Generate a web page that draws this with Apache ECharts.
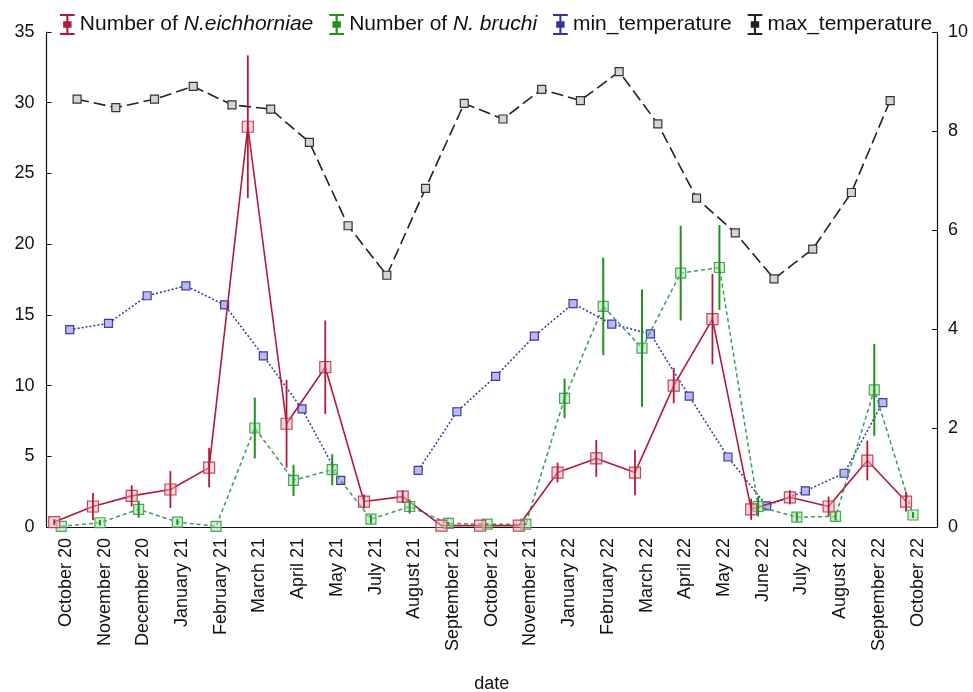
<!DOCTYPE html>
<html>
<head>
<meta charset="utf-8">
<script src="https://cdn.jsdelivr.net/npm/echarts@6/dist/echarts.min.js"></script>
<style>
  html, body { margin: 0; padding: 0; background: #fff; }
  #chart { width: 973px; height: 692px; }
</style>
</head>
<body>
<div id="chart"></div>
<script>
// Monthly sampling dates
const categories = ['October 20', 'November 20', 'December 20', 'January 21', 'February 21', 'March 21',
  'April 21', 'May 21', 'July 21', 'August 21', 'September 21', 'October 21', 'November 21',
  'January 22', 'February 22', 'March 22', 'April 22', 'May 22', 'June 22', 'July 22',
  'August 22', 'September 22', 'October 22'];

// Mean counts and their error ranges
const eichhorniae = [0.35, 1.45, 2.2, 2.65, 4.2, 28.3, 7.3, 11.3, 1.8, 2.15, 0.1, 0.1, 0.1,
  3.85, 4.85, 3.85, 10.0, 14.7, 1.25, 2.1, 1.45, 4.7, 1.8];
const eichhorniaeErr = [0.2, 0.95, 0.75, 1.3, 1.4, 5.05, 3.1, 3.3, 0.5, 0.45, 0, 0, 0,
  0.7, 1.3, 1.6, 1.25, 3.2, 0.75, 0.5, 0.7, 1.4, 0.7];
const bruchi = [0.05, 0.3, 1.25, 0.35, 0.05, 7.0, 3.3, 4.05, 0.55, 1.45, 0.25, 0.2, 0.2,
  9.1, 15.6, 12.65, 17.95, 18.35, 1.45, 0.7, 0.75, 9.7, 0.85];
const bruchiErr = [0, 0.2, 0.6, 0.2, 0, 2.15, 1.1, 1.1, 0.3, 0.5, 0.1, 0.05, 0.05,
  1.4, 3.45, 4.15, 3.35, 3.0, 0.7, 0.3, 0.3, 3.25, 0.2];

// Temperatures
const minTemp = [13.95, 14.4, 16.35, 17.05, 15.7, 12.1, 8.35, 3.3, null, 4.0, 8.15, 10.65, 13.5,
  15.8, 14.35, 13.65, 9.25, 4.95, 1.5, 2.55, 3.8, 8.8, null];
const maxTemp = [30.25, 29.65, 30.25, 31.15, 29.85, 29.55, 27.2, 21.3, 17.8, 23.95, 29.95, 28.85, 30.95,
  30.15, 32.2, 28.5, 23.25, 20.8, 17.55, 19.65, 23.65, 30.15, null];

// Axis scales
const leftMin = 0, leftMax = 35, leftStep = 5;
const rightMin = 0, rightMax = 10, rightStep = 2;

const FONT = '"Liberation Sans", Arial, sans-serif';
const RED = '#b01a3c', GREEN = '#1f921f', GREEN_LINE = '#3c9a5c', BLUE = '#34349e', BLACK = '#222222';

// series are drawn side by side within each month
const shift = { eich: -0.3, bruchi: -0.12, tmin: 0.1, tmax: 0.29 };

function points(vals, off) {
  return vals.map((v, i) => [i + off, v == null ? '-' : v]);
}
function ranges(vals, errs, off) {
  const out = [];
  vals.forEach((v, i) => { if (errs[i] > 0) out.push([i + off, v - errs[i], v + errs[i]]); });
  return out;
}
function errorSeries(name, data, color, width) {
  return {
    name, type: 'custom', xAxisIndex: 1, yAxisIndex: 0, z: 4,
    data, encode: { x: 0, y: [1, 2] },
    renderItem: (params, api) => {
      const x = api.value(0);
      const a = api.coord([x, api.value(1)]);
      const b = api.coord([x, api.value(2)]);
      return { type: 'line', shape: { x1: a[0], y1: a[1], x2: b[0], y2: b[1] },
        style: { stroke: color, lineWidth: width } };
    }
  };
}

const ICON = 'path://M0,0h14v2h-14z M6,0h2v20h-2z M0,18h14v2h-14z M3,7h8v6h-8z';

const chart = echarts.init(document.getElementById('chart'), null, { renderer: 'canvas' });
chart.setOption({
  animation: false,
  backgroundColor: '#ffffff',
  textStyle: { fontFamily: FONT },
  grid: { left: 46.5, right: 36, top: 32, bottom: 165, containLabel: false, outerBoundsMode: 'none' },
  legend: {
    left: 55, top: 9, itemWidth: 15, itemHeight: 21, itemGap: 16,
    textStyle: { fontFamily: FONT, fontSize: 21, color: '#111', rich: { i: { fontStyle: 'italic', fontFamily: FONT, fontSize: 21, color: '#111' } } },
    formatter: name => name.replace(/(N\.\s?\w+)/, '{i|$1}'),
    data: [
      { name: 'Number of N.eichhorniae', icon: ICON, itemStyle: { color: RED, borderWidth: 0 } },
      { name: 'Number of N. bruchi', icon: ICON, itemStyle: { color: GREEN, borderWidth: 0 } },
      { name: 'min_temperature', icon: ICON, itemStyle: { color: BLUE, borderWidth: 0 } },
      { name: 'max_temperature', icon: ICON, itemStyle: { color: BLACK, borderWidth: 0 } }
    ]
  },
  xAxis: [
    {
      type: 'category', data: categories, boundaryGap: true,
      name: 'date', nameLocation: 'middle', nameGap: 148,
      nameTextStyle: { fontSize: 18, color: '#111', fontFamily: FONT },
      axisLine: { onZero: false, lineStyle: { color: '#111', width: 1.2 } },
      axisTick: { alignWithLabel: true, inside: true, length: 5, lineStyle: { color: '#111' } },
      axisLabel: { rotate: 90, fontSize: 18, color: '#111', margin: 11, fontFamily: FONT, interval: 0 },
      splitLine: { show: false }
    },
    {
      type: 'value', min: -0.5, max: 22.5, show: false,
      axisLine: { onZero: false },
      splitLine: { show: false }
    }
  ],
  yAxis: [
    {
      type: 'value', min: leftMin, max: leftMax, interval: leftStep, position: 'left',
      axisLine: { show: true, onZero: false, lineStyle: { color: '#111', width: 1.2 } },
      axisTick: { show: true, inside: true, length: 5, lineStyle: { color: '#111' } },
      axisLabel: { fontSize: 18, color: '#111', margin: 12, fontFamily: FONT },
      splitLine: { show: false }
    },
    {
      type: 'value', min: rightMin, max: rightMax, interval: rightStep, position: 'right',
      axisLine: { show: true, onZero: false, lineStyle: { color: '#111', width: 1.2 } },
      axisTick: { show: true, inside: true, length: 5, lineStyle: { color: '#111' } },
      axisLabel: { fontSize: 18, color: '#111', margin: 11, fontFamily: FONT },
      splitLine: { show: false }
    }
  ],
  series: [
    {
      name: 'max_temperature', type: 'line', xAxisIndex: 1, yAxisIndex: 0, z: 2,
      data: points(maxTemp, shift.tmax), connectNulls: false,
      symbol: 'rect', symbolSize: 8,
      lineStyle: { color: BLACK, width: 1.6, type: [12, 5] },
      itemStyle: { color: '#d4d4d4', borderColor: '#333', borderWidth: 1.2 }
    },
    {
      name: 'min_temperature', type: 'line', xAxisIndex: 1, yAxisIndex: 0, z: 2,
      data: points(minTemp, shift.tmin), connectNulls: false,
      symbol: 'rect', symbolSize: 8,
      lineStyle: { color: BLUE, width: 1.5, type: [2, 2] },
      itemStyle: { color: '#b9b9ea', borderColor: '#3a3aaa', borderWidth: 1.2 }
    },
    {
      name: 'Number of N. bruchi', type: 'line', xAxisIndex: 1, yAxisIndex: 0, z: 3,
      data: points(bruchi, shift.bruchi),
      symbol: 'rect', symbolSize: 10,
      lineStyle: { color: GREEN_LINE, width: 1.5, type: [4, 3] },
      itemStyle: { color: 'rgba(170,225,170,0.55)', borderColor: '#47a85a', borderWidth: 1.2 }
    },
    {
      name: 'Number of N.eichhorniae', type: 'line', xAxisIndex: 1, yAxisIndex: 0, z: 3,
      data: points(eichhorniae, shift.eich),
      symbol: 'rect', symbolSize: 11,
      lineStyle: { color: RED, width: 1.6 },
      itemStyle: { color: 'rgba(240,175,180,0.5)', borderColor: '#c0485f', borderWidth: 1.2 }
    },
    errorSeries('Number of N. bruchi', ranges(bruchi, bruchiErr, shift.bruchi), GREEN, 2),
    errorSeries('Number of N.eichhorniae', ranges(eichhorniae, eichhorniaeErr, shift.eich), RED, 1.8)
  ]
});
</script>
</body>
</html>
